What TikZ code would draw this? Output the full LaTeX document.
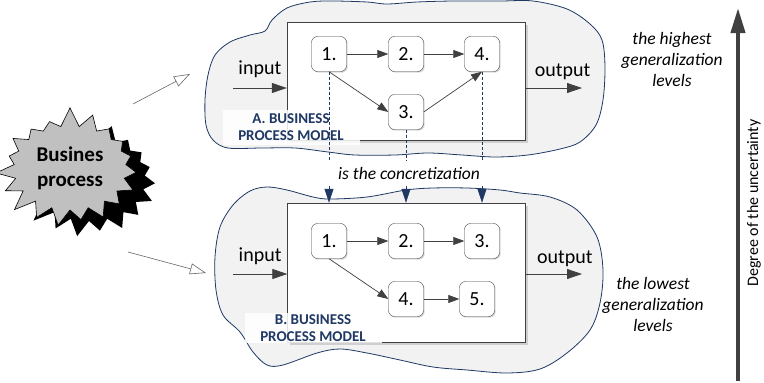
\documentclass[tikz,border=0pt]{standalone}
\usepackage{fontspec}
\setmainfont{Carlito}
\usetikzlibrary{positioning,arrows.meta,shapes.symbols,shadows}

\definecolor{navy}{RGB}{31,56,100}
\definecolor{cloudgray}{RGB}{242,242,242}
\definecolor{darkline}{RGB}{64,64,64}
\definecolor{burstgray}{RGB}{192,192,192}

\begin{document}
\begin{tikzpicture}[x=1pt, y=-1pt,
		act/.style={draw=darkline, fill=white, rounded corners=6pt, minimum width=35pt, minimum height=35pt, inner sep=0pt, font=\fontsize{20}{24}\selectfont, drop shadow={opacity=0.3, shadow xshift=1.2pt, shadow yshift=-1.2pt}},
		pframe/.style={draw=darkline, fill=white, minimum width=238pt, drop shadow={opacity=0.3, shadow xshift=2.5pt, shadow yshift=-2.5pt}},
		flow/.style={draw=darkline, line width=0.7pt, -{Triangle[length=11pt, width=8pt]}},
		io/.style={draw=darkline, line width=0.8pt, -{Triangle[length=15pt, width=10pt]}},
		iolabel/.style={font=\fontsize{20}{24}\selectfont, text=black},
		concr/.style={draw=navy, line width=0.8pt, dash pattern=on 3pt off 2pt},
		concrarrow/.style={draw=navy, line width=0.8pt, -{Triangle[length=14pt, width=9pt]}},
		hollow/.style={draw=gray!80!black, line width=0.6pt, -{Triangle[open, length=16pt, width=11pt]}},
		blob/.style={draw=navy, fill=cloudgray, line width=0.8pt},
		model/.style={fill=white, fill opacity=0.85, text opacity=1, text=navy, font=\fontsize{15}{17}\selectfont\bfseries, align=center, minimum width=137pt, inner sep=1pt},
		level/.style={align=center, font=\fontsize{17.5}{21}\selectfont\itshape},
		burst/.style={shape=starburst, starburst points=19, starburst point height=20pt, random starburst=7, minimum width=152pt, minimum height=124pt, inner sep=0pt, line width=0.6pt}
	]
	\useasboundingbox (0,0) rectangle (764,383);

	% the two levels as clouds
	\draw[blob] plot[smooth cycle, tension=0.55] coordinates {(205,100) (208,75) (215,55) (230,42) (250,35) (265,31) (272,20) (287,8) (310,2) (333,1) (367,2) (387,4) (417,2) (453,1) (500,1) (533,1) (567,9) (590,24) (602,40) (605,67) (603,100) (596,125) (580,142) (560,149) (528,155) (495,157) (462,155) (428,153) (395,155) (355,155) (328,152) (295,148) (262,148) (228,148) (213,140) (206,125)};
	\draw[blob] plot[smooth cycle, tension=0.55] coordinates {(215,257) (220,227) (233,205) (250,191) (267,187) (287,190) (313,197) (330,199) (367,197) (406,190) (433,188) (467,188) (500,190) (520,193) (550,197) (577,210) (597,237) (603,270) (600,303) (590,330) (567,353) (540,369) (507,373) (467,370) (433,367) (400,360) (367,353) (340,349) (317,353) (283,365) (267,365) (253,352) (240,332) (223,315) (216,290)};

	% business process
	\node[burst, fill=black] (shd) at (89,179) {};
	\node[burst, draw=black, fill=burstgray, font=\fontsize{21}{25}\selectfont\bfseries, align=center] (bp) at (70,168) {Busines\\process};
	\coordinate (bpA) at (133,104);
	\coordinate (bpB) at (128,252);
	\coordinate (toA) at (190,74);
	\coordinate (toB) at (206,273);
	\draw[hollow] (bpA) -- (toA);
	\draw[hollow] (bpB) -- (toB);

	% model A
	\node[pframe, minimum height=118pt] (fA) at (406,81) {};
	\node[model, minimum height=35pt] (labA) at (291,127.5) {A. BUSINESS\\PROCESS MODEL};
	\node[act] (a1) at (329,54) {1.};
	\node[act, right of=a1, node distance=77pt] (a2) {2.};
	\node[act, right of=a2, node distance=76pt] (a4) {4.};
	\node[act, below of=a2, node distance=58pt] (a3) {3.};
	\draw[flow] (a1) -- (a2);
	\draw[flow] (a2) -- (a4);
	\draw[flow] (a1.south) -- (a3.west);
	\draw[flow] (a3.east) -- (a4.south);
	\coordinate (inA) at (233,88);
	\coordinate (outA) at (582,88);
	\draw[io] (inA) --node[iolabel, above=7pt] {input} (inA -| fA.west);
	\draw[io] (outA -| fA.east) --node[iolabel, above=5pt, xshift=9pt] {output} (outA);

	% model B
	\node[pframe, minimum height=139pt] (fB) at (406.5,272.5) {};
	\node[model, minimum height=30pt] (labB) at (313,328) {B. BUSINESS\\PROCESS MODEL};
	\node[act] (b1) at (329,241) {1.};
	\node[act, right of=b1, node distance=77pt] (b2) {2.};
	\node[act, right of=b2, node distance=76pt] (b3) {3.};
	\node[act, below of=b2, node distance=58pt] (b4) {4.};
	\node[act, right of=b4, node distance=71pt] (b5) {5.};
	\draw[flow] (b1) -- (b2);
	\draw[flow] (b2) -- (b3);
	\draw[flow] (b1.south) -- (b4.west);
	\draw[flow] (b4) -- (b5);
	\coordinate (inB) at (233,274);
	\coordinate (outB) at (582,274);
	\draw[io] (inB) --node[iolabel, above=6pt] {input} (inB -| fB.west);
	\draw[io] (outB -| fB.east) --node[iolabel, above=4pt, xshift=11pt] {output} (outB);

	% A -> B
	\foreach \n in {a1,a3,a4}{
		\coordinate (\n end) at (\n |- 0,160);
		\coordinate (\n top) at (\n |- 0,186);
		\draw[concr] (\n.south) -- (\n end);
		\draw[concrarrow] (\n top) -- (\n top |- fB.north);
	}
	\node[level] (conc) at (409,173) {is the concretization};

	% levels
	\node[level] (high) at (672,59) {the highest\\generalization\\levels};
	\node[level] (low) at (653,304) {the lowest\\generalization\\levels};

	\coordinate (unc0) at (738,381);
	\coordinate (unc1) at (738,8);
	\draw[draw=darkline, line width=4pt, -{Triangle[length=25pt, width=14pt]}] (unc0) -- (unc1);
	\node[rotate=90, font=\fontsize{16}{19}\selectfont] (unc) at (754,203) {Degree of the uncertainty};
\end{tikzpicture}
\end{document}
